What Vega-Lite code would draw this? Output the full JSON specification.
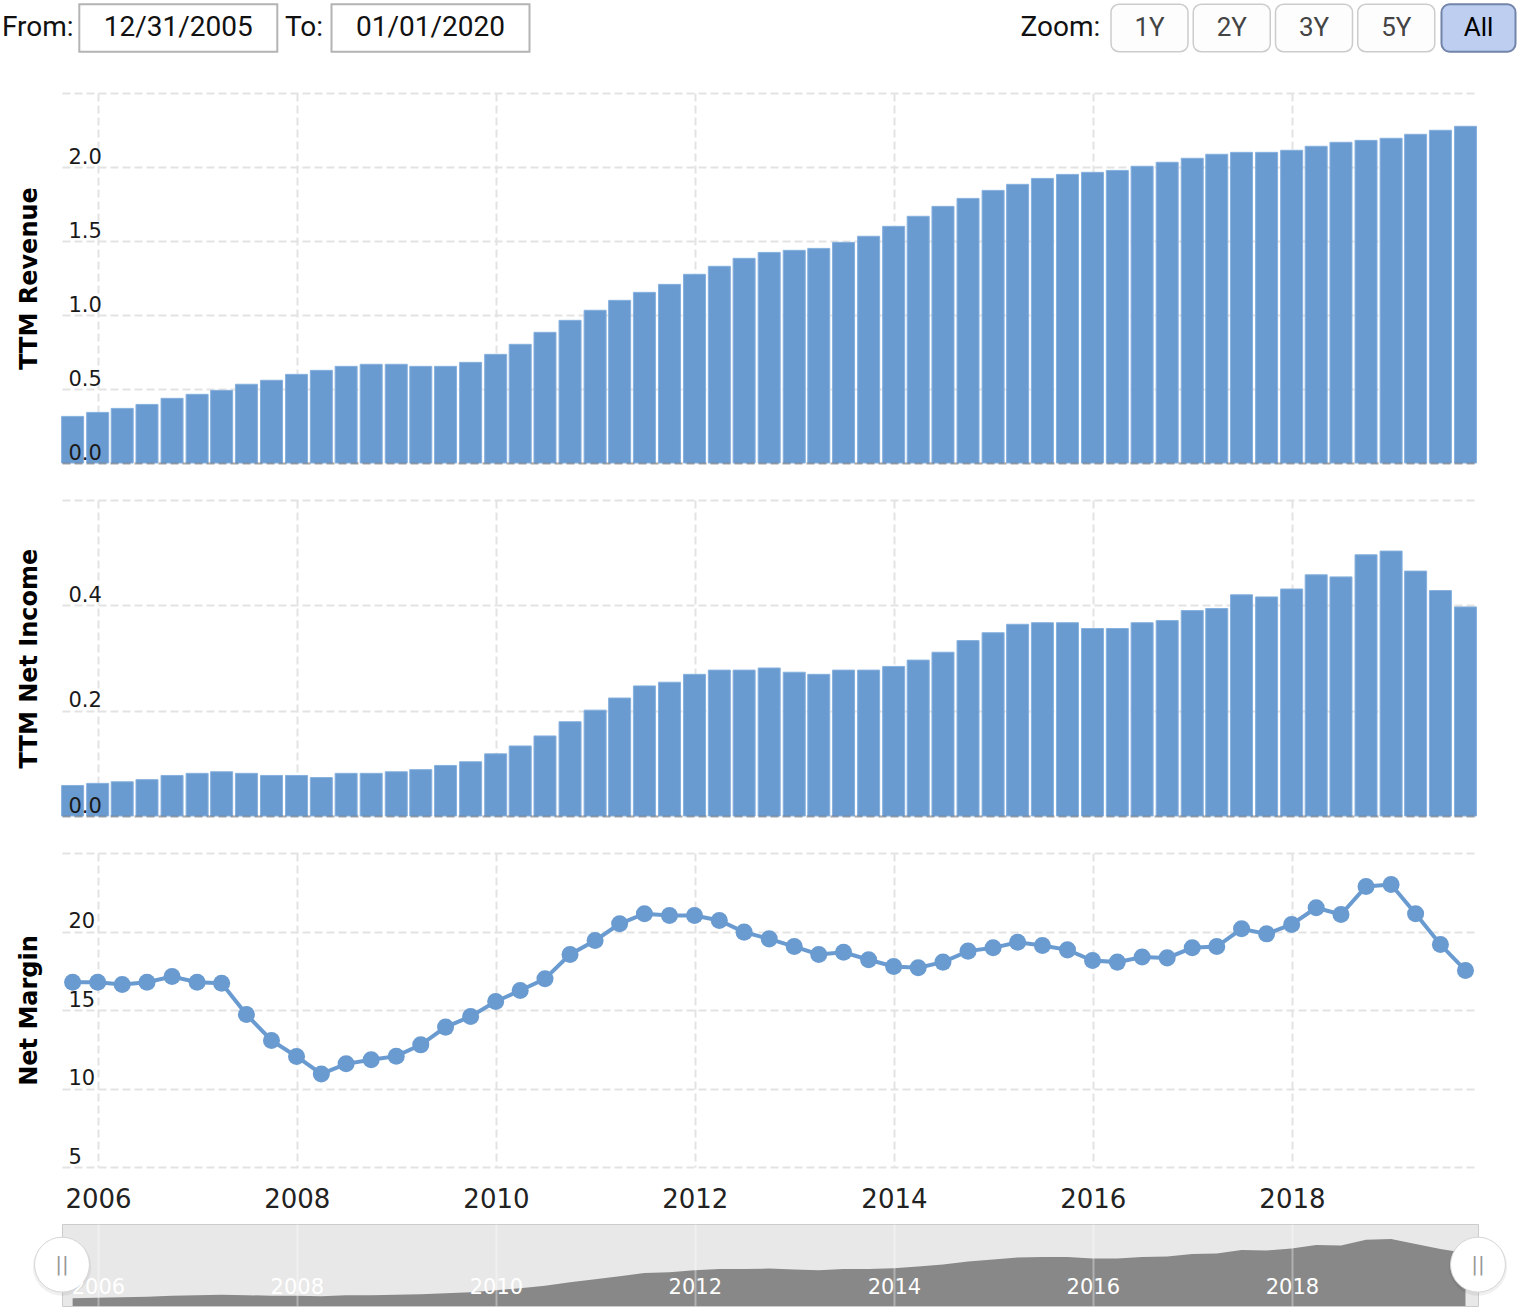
{
  "$schema": "https://vega.github.io/schema/vega-lite/v6.json",
  "background": "#ffffff",
  "padding": {"left": 2, "top": 0, "right": 0, "bottom": 0},
  "spacing": 37,
  "bounds": "flush",
  "config": {"view": {"stroke": null}},
  "datasets": {
    "q": [
      {"date": "2005-09-30", "revenue": 0.315, "net_income": 0.058, "net_margin": 16.77},
      {"date": "2005-12-31", "revenue": 0.342, "net_income": 0.062, "net_margin": 16.77},
      {"date": "2006-03-31", "revenue": 0.369, "net_income": 0.065, "net_margin": 16.62},
      {"date": "2006-06-30", "revenue": 0.396, "net_income": 0.069, "net_margin": 16.77},
      {"date": "2006-09-30", "revenue": 0.437, "net_income": 0.077, "net_margin": 17.13},
      {"date": "2006-12-31", "revenue": 0.464, "net_income": 0.081, "net_margin": 16.77},
      {"date": "2007-03-31", "revenue": 0.491, "net_income": 0.084, "net_margin": 16.71},
      {"date": "2007-06-30", "revenue": 0.532, "net_income": 0.081, "net_margin": 14.71},
      {"date": "2007-09-30", "revenue": 0.559, "net_income": 0.077, "net_margin": 13.06},
      {"date": "2007-12-31", "revenue": 0.599, "net_income": 0.077, "net_margin": 12.04},
      {"date": "2008-03-31", "revenue": 0.626, "net_income": 0.073, "net_margin": 10.93},
      {"date": "2008-06-30", "revenue": 0.653, "net_income": 0.081, "net_margin": 11.57},
      {"date": "2008-09-30", "revenue": 0.667, "net_income": 0.081, "net_margin": 11.83},
      {"date": "2008-12-31", "revenue": 0.667, "net_income": 0.084, "net_margin": 12.06},
      {"date": "2009-03-31", "revenue": 0.653, "net_income": 0.088, "net_margin": 12.78},
      {"date": "2009-06-30", "revenue": 0.653, "net_income": 0.096, "net_margin": 13.91},
      {"date": "2009-09-30", "revenue": 0.680, "net_income": 0.103, "net_margin": 14.59},
      {"date": "2009-12-31", "revenue": 0.734, "net_income": 0.118, "net_margin": 15.54},
      {"date": "2010-03-31", "revenue": 0.802, "net_income": 0.133, "net_margin": 16.24},
      {"date": "2010-06-30", "revenue": 0.883, "net_income": 0.152, "net_margin": 16.99},
      {"date": "2010-09-30", "revenue": 0.964, "net_income": 0.179, "net_margin": 18.54},
      {"date": "2010-12-31", "revenue": 1.032, "net_income": 0.201, "net_margin": 19.43},
      {"date": "2011-03-31", "revenue": 1.099, "net_income": 0.224, "net_margin": 20.49},
      {"date": "2011-06-30", "revenue": 1.153, "net_income": 0.247, "net_margin": 21.13},
      {"date": "2011-09-30", "revenue": 1.207, "net_income": 0.254, "net_margin": 21.02},
      {"date": "2011-12-31", "revenue": 1.275, "net_income": 0.269, "net_margin": 21.02},
      {"date": "2012-03-31", "revenue": 1.329, "net_income": 0.277, "net_margin": 20.70},
      {"date": "2012-06-30", "revenue": 1.383, "net_income": 0.277, "net_margin": 19.96},
      {"date": "2012-09-30", "revenue": 1.423, "net_income": 0.281, "net_margin": 19.53},
      {"date": "2012-12-31", "revenue": 1.437, "net_income": 0.273, "net_margin": 19.04},
      {"date": "2013-03-31", "revenue": 1.450, "net_income": 0.269, "net_margin": 18.54},
      {"date": "2013-06-30", "revenue": 1.491, "net_income": 0.277, "net_margin": 18.68},
      {"date": "2013-09-30", "revenue": 1.532, "net_income": 0.277, "net_margin": 18.20},
      {"date": "2013-12-31", "revenue": 1.599, "net_income": 0.284, "net_margin": 17.77},
      {"date": "2014-03-31", "revenue": 1.667, "net_income": 0.296, "net_margin": 17.69},
      {"date": "2014-06-30", "revenue": 1.734, "net_income": 0.311, "net_margin": 18.05},
      {"date": "2014-09-30", "revenue": 1.788, "net_income": 0.333, "net_margin": 18.75},
      {"date": "2014-12-31", "revenue": 1.842, "net_income": 0.348, "net_margin": 18.96},
      {"date": "2015-03-31", "revenue": 1.883, "net_income": 0.364, "net_margin": 19.32},
      {"date": "2015-06-30", "revenue": 1.923, "net_income": 0.367, "net_margin": 19.11},
      {"date": "2015-09-30", "revenue": 1.950, "net_income": 0.367, "net_margin": 18.83},
      {"date": "2015-12-31", "revenue": 1.964, "net_income": 0.356, "net_margin": 18.15},
      {"date": "2016-03-31", "revenue": 1.977, "net_income": 0.356, "net_margin": 18.05},
      {"date": "2016-06-30", "revenue": 2.005, "net_income": 0.367, "net_margin": 18.37},
      {"date": "2016-09-30", "revenue": 2.032, "net_income": 0.371, "net_margin": 18.32},
      {"date": "2016-12-31", "revenue": 2.059, "net_income": 0.390, "net_margin": 18.96},
      {"date": "2017-03-31", "revenue": 2.086, "net_income": 0.394, "net_margin": 19.04},
      {"date": "2017-06-30", "revenue": 2.099, "net_income": 0.420, "net_margin": 20.17},
      {"date": "2017-09-30", "revenue": 2.099, "net_income": 0.416, "net_margin": 19.85},
      {"date": "2017-12-31", "revenue": 2.113, "net_income": 0.431, "net_margin": 20.45},
      {"date": "2018-03-31", "revenue": 2.140, "net_income": 0.458, "net_margin": 21.51},
      {"date": "2018-06-30", "revenue": 2.167, "net_income": 0.454, "net_margin": 21.08},
      {"date": "2018-09-30", "revenue": 2.180, "net_income": 0.496, "net_margin": 22.87},
      {"date": "2018-12-31", "revenue": 2.194, "net_income": 0.503, "net_margin": 22.99},
      {"date": "2019-03-31", "revenue": 2.221, "net_income": 0.465, "net_margin": 21.13},
      {"date": "2019-06-30", "revenue": 2.248, "net_income": 0.428, "net_margin": 19.17},
      {"date": "2019-09-30", "revenue": 2.275, "net_income": 0.397, "net_margin": 17.52}
    ],
    "controls": [
      {"ctl": "From:", "kind": "label"},
      {"ctl": "12/31/2005", "kind": "input"},
      {"ctl": "To:", "kind": "label"},
      {"ctl": "01/01/2020", "kind": "input"},
      {"ctl": "Zoom:", "kind": "zoomlabel"},
      {"ctl": "1Y", "kind": "button"},
      {"ctl": "2Y", "kind": "button"},
      {"ctl": "3Y", "kind": "button"},
      {"ctl": "5Y", "kind": "button"},
      {"ctl": "All", "kind": "selected"}
    ],
    "range": [
      {"edge": "from", "date": "2005-08-22"},
      {"edge": "to", "date": "2019-11-15"}
    ]
  },
  "vconcat": [
    {
      "width": 1416,
      "height": 56,
      "data": {"name": "controls"},
      "layer": [
        {
          "transform": [{"filter": "datum.kind == 'label'"}],
          "mark": {"type": "text", "align": "left", "baseline": "middle", "font": "Roboto", "fontSize": 28, "color": "#111111"},
          "encoding": {
            "x": {"field": "ctl", "type": "nominal", "scale": {"type": "point", "domain": ["From:", "To:"], "range": [-60, 223], "padding": 0}, "axis": null},
            "y": {"datum": "c", "type": "nominal", "scale": {"type": "band", "domain": ["c"], "paddingInner": 0, "paddingOuter": 0.09}, "axis": null},
            "text": {"field": "ctl"}
          }
        },
        {
          "transform": [{"filter": "datum.kind == 'input'"}],
          "encoding": {
            "x": {"field": "ctl", "type": "nominal", "scale": {"type": "point", "domain": ["12/31/2005", "01/01/2020"], "range": [116.3, 368.5], "padding": 0}, "axis": null},
            "y": {"datum": "c", "type": "nominal", "axis": null}
          },
          "layer": [
            {"mark": {"type": "bar", "width": 198, "fill": "#ffffff", "stroke": "#b4b4b4", "strokeWidth": 2}},
            {"mark": {"type": "text", "baseline": "middle", "font": "Roboto", "fontSize": 28, "color": "#111111"}, "encoding": {"text": {"field": "ctl"}}}
          ]
        },
        {
          "encoding": {
            "x": {"field": "ctl", "type": "nominal", "scale": {"type": "point", "domain": ["Zoom:", "1Y", "2Y", "3Y", "5Y", "All"], "range": [1005.25, 1416.5], "padding": 0}, "axis": null},
            "y": {"datum": "c", "type": "nominal", "axis": null}
          },
          "layer": [
            {"transform": [{"filter": "datum.kind == 'button'"}], "mark": {"type": "bar", "width": 77, "cornerRadius": 8, "fill": "#fdfdfd", "stroke": "#cccccc", "strokeWidth": 1.5}},
            {"transform": [{"filter": "datum.kind == 'selected'"}], "mark": {"type": "bar", "width": 74, "cornerRadius": 8, "fill": "#bdcef0", "stroke": "#7284a8", "strokeWidth": 2}},
            {"transform": [{"filter": "datum.kind == 'zoomlabel'"}], "mark": {"type": "text", "align": "right", "baseline": "middle", "dx": 33, "font": "Roboto", "fontSize": 28, "color": "#111111"}, "encoding": {"text": {"field": "ctl"}}},
            {"transform": [{"filter": "datum.kind == 'button'"}], "mark": {"type": "text", "baseline": "middle", "font": "Roboto", "fontSize": 26, "color": "#444444"}, "encoding": {"text": {"field": "ctl"}}},
            {"transform": [{"filter": "datum.kind == 'selected'"}], "mark": {"type": "text", "baseline": "middle", "font": "Roboto", "fontSize": 26, "color": "#000000"}, "encoding": {"text": {"field": "ctl"}}}
          ]
        }
      ],
      "resolve": {"scale": {"x": "independent"}}
    },
    {
      "width": 1416,
      "height": 370,
      "data": {"name": "q"},
      "layer": [
        {
          "mark": {"type": "bar", "width": 22, "color": "#6a9bd0", "stroke": "#86b0de", "strokeWidth": 1},
          "encoding": {
            "x": {"field": "date", "type": "temporal",
              "scale": {"type": "utc", "nice": false, "padding": 0, "domain": [{"year": 2005, "month": 8, "date": 22, "utc": true}, {"year": 2019, "month": 11, "date": 15, "utc": true}]},
              "axis": {"values": [{"year": 2006, "month": 1, "date": 1, "utc": true}, {"year": 2008, "month": 1, "date": 1, "utc": true}, {"year": 2010, "month": 1, "date": 1, "utc": true}, {"year": 2012, "month": 1, "date": 1, "utc": true}, {"year": 2014, "month": 1, "date": 1, "utc": true}, {"year": 2016, "month": 1, "date": 1, "utc": true}, {"year": 2018, "month": 1, "date": 1, "utc": true}],
                "labels": false, "ticks": false, "domain": false, "grid": true, "gridColor": "#e3e3e3", "gridDash": [8, 4], "gridWidth": 2, "title": null}},
            "y": {"field": "revenue", "type": "quantitative", "scale": {"domain": [0, 2.5], "nice": false},
              "axis": {"values": [0, 0.5, 1, 1.5, 2, 2.5], "labels": false, "ticks": false, "domain": false, "grid": true, "gridColor": "#e3e3e3", "gridDash": [8, 4], "gridWidth": 2, "title": null}}
          }
        },
        {
          "mark": {"type": "bar", "width": 22, "opacity": 0},
          "encoding": {
            "x": {"field": "date", "type": "temporal",
              "axis": {"orient": "bottom", "values": [{"year": 2006, "month": 1, "date": 1, "utc": true}], "labels": false, "ticks": false, "grid": false, "domain": true, "domainColor": "rgba(60,60,60,0.35)", "domainDash": [8, 4], "domainWidth": 2, "title": null, "zindex": 1}},
            "y": {"field": "revenue", "type": "quantitative",
              "axis": {"orient": "left", "values": [0, 0.5, 1, 1.5, 2], "format": ".1f", "grid": false, "ticks": false, "tickSize": 0, "domain": false,
                "labelAlign": "left", "labelBaseline": "alphabetic", "labelPadding": -6, "labelOffset": -4, "labelFont": "DejaVu Sans", "labelFontSize": 21, "labelColor": "#1a1a1a",
                "labelOverlap": false, "labelFlush": false, "labelBound": false,
                "title": "TTM Revenue", "titleFont": "DejaVu Sans", "titleFontSize": 24, "titleFontWeight": "bold", "titleColor": "#000000",
                "titleX": -26, "titleY": 185, "titleAngle": -90, "titleBaseline": "alphabetic", "titleAlign": "center", "zindex": 1}}
          }
        }
      ],
      "resolve": {"axis": {"x": "independent", "y": "independent"}}
    },
    {
      "width": 1416,
      "height": 316,
      "data": {"name": "q"},
      "layer": [
        {
          "mark": {"type": "bar", "width": 22, "color": "#6a9bd0", "stroke": "#86b0de", "strokeWidth": 1},
          "encoding": {
            "x": {"field": "date", "type": "temporal",
              "scale": {"type": "utc", "nice": false, "padding": 0, "domain": [{"year": 2005, "month": 8, "date": 22, "utc": true}, {"year": 2019, "month": 11, "date": 15, "utc": true}]},
              "axis": {"values": [{"year": 2006, "month": 1, "date": 1, "utc": true}, {"year": 2008, "month": 1, "date": 1, "utc": true}, {"year": 2010, "month": 1, "date": 1, "utc": true}, {"year": 2012, "month": 1, "date": 1, "utc": true}, {"year": 2014, "month": 1, "date": 1, "utc": true}, {"year": 2016, "month": 1, "date": 1, "utc": true}, {"year": 2018, "month": 1, "date": 1, "utc": true}],
                "labels": false, "ticks": false, "domain": false, "grid": true, "gridColor": "#e3e3e3", "gridDash": [8, 4], "gridWidth": 2, "title": null}},
            "y": {"field": "net_income", "type": "quantitative", "scale": {"domain": [0, 0.6], "nice": false},
              "axis": {"values": [0, 0.2, 0.4, 0.6], "labels": false, "ticks": false, "domain": false, "grid": true, "gridColor": "#e3e3e3", "gridDash": [8, 4], "gridWidth": 2, "title": null}}
          }
        },
        {
          "mark": {"type": "bar", "width": 22, "opacity": 0},
          "encoding": {
            "x": {"field": "date", "type": "temporal",
              "axis": {"orient": "bottom", "values": [{"year": 2006, "month": 1, "date": 1, "utc": true}], "labels": false, "ticks": false, "grid": false, "domain": true, "domainColor": "rgba(60,60,60,0.35)", "domainDash": [8, 4], "domainWidth": 2, "title": null, "zindex": 1}},
            "y": {"field": "net_income", "type": "quantitative",
              "axis": {"orient": "left", "values": [0, 0.2, 0.4], "format": ".1f", "grid": false, "ticks": false, "tickSize": 0, "domain": false,
                "labelAlign": "left", "labelBaseline": "alphabetic", "labelPadding": -6, "labelOffset": -4, "labelFont": "DejaVu Sans", "labelFontSize": 21, "labelColor": "#1a1a1a",
                "labelOverlap": false, "labelFlush": false, "labelBound": false,
                "title": "TTM Net Income", "titleFont": "DejaVu Sans", "titleFontSize": 24, "titleFontWeight": "bold", "titleColor": "#000000",
                "titleX": -26, "titleY": 158, "titleAngle": -90, "titleBaseline": "alphabetic", "titleAlign": "center", "zindex": 1}}
          }
        }
      ],
      "resolve": {"axis": {"x": "independent", "y": "independent"}}
    },
    {
      "spacing": 57,
      "bounds": "flush",
      "vconcat": [
        {
          "width": 1416,
          "height": 314,
          "data": {"name": "q"},
          "encoding": {
            "x": {"field": "date", "type": "temporal",
              "scale": {"type": "utc", "nice": false, "padding": 0, "domain": [{"year": 2005, "month": 8, "date": 22, "utc": true}, {"year": 2019, "month": 11, "date": 15, "utc": true}]},
              "axis": {"values": [{"year": 2006, "month": 1, "date": 1, "utc": true}, {"year": 2008, "month": 1, "date": 1, "utc": true}, {"year": 2010, "month": 1, "date": 1, "utc": true}, {"year": 2012, "month": 1, "date": 1, "utc": true}, {"year": 2014, "month": 1, "date": 1, "utc": true}, {"year": 2016, "month": 1, "date": 1, "utc": true}, {"year": 2018, "month": 1, "date": 1, "utc": true}],
                "format": "%Y", "ticks": false, "tickSize": 0, "domain": false, "grid": true, "gridColor": "#e3e3e3", "gridDash": [8, 4], "gridWidth": 2,
                "labelFont": "DejaVu Sans", "labelFontSize": 26, "labelColor": "#222222", "labelBaseline": "alphabetic", "labelPadding": 40,
                "labelFlush": false, "labelOverlap": false, "labelBound": false, "title": null}},
            "y": {"field": "net_margin", "type": "quantitative", "scale": {"domain": [5, 25], "nice": false, "zero": false},
              "axis": {"values": [5, 10, 15, 20, 25], "labelExpr": "datum.value > 24 ? '' : format(datum.value, 'd')", "grid": true, "gridColor": "#e3e3e3", "gridDash": [8, 4], "gridWidth": 2,
                "ticks": false, "tickSize": 0, "domain": false,
                "labelAlign": "left", "labelBaseline": "alphabetic", "labelPadding": -6, "labelOffset": -4, "labelFont": "DejaVu Sans", "labelFontSize": 21, "labelColor": "#1a1a1a",
                "labelOverlap": false, "labelFlush": false, "labelBound": false,
                "title": "Net Margin", "titleFont": "DejaVu Sans", "titleFontSize": 24, "titleFontWeight": "bold", "titleColor": "#000000",
                "titleX": -26, "titleY": 157, "titleAngle": -90, "titleBaseline": "alphabetic", "titleAlign": "center"}}
          },
          "layer": [
            {"mark": {"type": "line", "color": "#6a9bd0", "strokeWidth": 4}},
            {"mark": {"type": "circle", "color": "#6a9bd0", "size": 290, "opacity": 1}}
          ]
        },
        {
          "width": 1416,
          "height": 82,
          "view": {"fill": "#e8e8e8", "stroke": "#cccccc", "strokeWidth": 1},
          "layer": [
            {
              "data": {"name": "q"},
              "mark": {"type": "area", "color": "#888888", "opacity": 1},
              "encoding": {
                "x": {"field": "date", "type": "temporal",
                  "scale": {"type": "utc", "nice": false, "padding": 0, "domain": [{"year": 2005, "month": 8, "date": 22, "utc": true}, {"year": 2019, "month": 11, "date": 15, "utc": true}]},
                  "axis": {"orient": "bottom", "values": [{"year": 2006, "month": 1, "date": 1, "utc": true}, {"year": 2008, "month": 1, "date": 1, "utc": true}, {"year": 2010, "month": 1, "date": 1, "utc": true}, {"year": 2012, "month": 1, "date": 1, "utc": true}, {"year": 2014, "month": 1, "date": 1, "utc": true}, {"year": 2016, "month": 1, "date": 1, "utc": true}, {"year": 2018, "month": 1, "date": 1, "utc": true}],
                    "format": "%Y", "ticks": false, "tickSize": 0, "domain": false, "grid": true, "gridColor": "#ffffff", "gridOpacity": 0.35, "gridWidth": 2,
                    "labelColor": "#ffffff", "labelFont": "DejaVu Sans", "labelFontSize": 21, "labelBaseline": "alphabetic", "labelPadding": -13,
                    "labelFlush": false, "labelOverlap": false, "labelBound": false, "title": null, "zindex": 1}},
                "y": {"field": "net_income", "type": "quantitative", "scale": {"domain": [0, 0.615], "nice": false}, "axis": null}
              }
            },
            {
              "data": {"name": "range"},
              "mark": {"type": "circle", "size": 3400, "color": "#000000", "opacity": 0.06},
              "encoding": {
                "x": {"field": "date", "type": "temporal", "axis": null},
                "y": {"datum": 0.295, "type": "quantitative", "axis": null}
              }
            },
            {
              "data": {"name": "range"},
              "mark": {"type": "circle", "size": 3019, "fill": "#ffffff", "stroke": "#d6d6d6", "strokeWidth": 1, "opacity": 1},
              "encoding": {
                "x": {"field": "date", "type": "temporal", "axis": null},
                "y": {"datum": 0.31, "type": "quantitative", "axis": null}
              }
            },
            {
              "data": {"name": "range"},
              "mark": {"type": "text", "text": "||", "font": "DejaVu Sans", "fontSize": 20, "color": "#999999", "baseline": "middle"},
              "encoding": {
                "x": {"field": "date", "type": "temporal", "axis": null},
                "y": {"datum": 0.31, "type": "quantitative", "axis": null}
              }
            }
          ],
          "resolve": {"axis": {"x": "independent", "y": "independent"}}
        }
      ]
    }
  ]
}
